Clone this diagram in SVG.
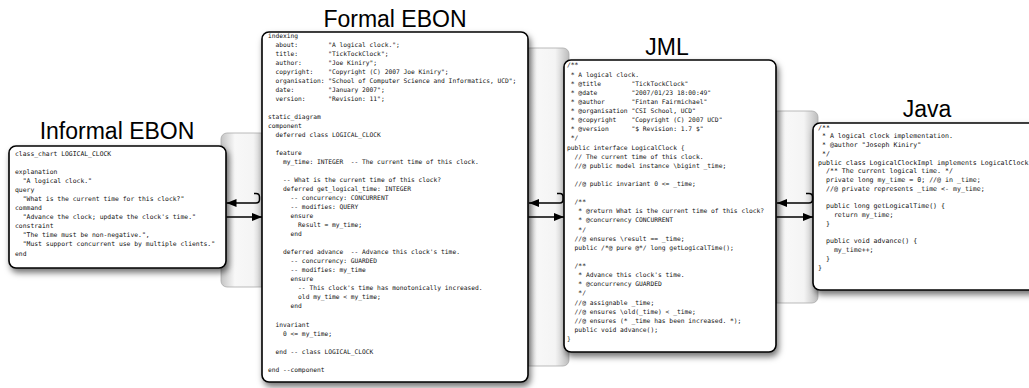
<svg xmlns="http://www.w3.org/2000/svg" width="1029" height="388" viewBox="0 0 1029 388">
<style>
.box{fill:#fff;stroke:#000;stroke-width:1.6;filter:url(#sh)}
.band{fill:url(#bandg);stroke:#aaaaaa;stroke-width:0.8}
.title{font-family:"Liberation Sans",Arial,sans-serif;font-size:23px;text-anchor:middle;fill:#000}
.code{font-family:"DejaVu Sans Mono","Liberation Mono",monospace;fill:#111}
.c1{font-size:6.4px}.c2{font-size:6.25px}.c3{font-size:6.3px}.c4{font-size:6.6px}
.conn{fill:none;stroke:#000;stroke-width:1.5}
</style>
<defs>
<filter id="sh" x="-10%" y="-10%" width="125%" height="125%">
<feDropShadow dx="2" dy="4" stdDeviation="3" flood-color="#000" flood-opacity="0.55"/>
</filter>
<linearGradient id="bandg" x1="0" y1="0" x2="1" y2="0">
<stop offset="0" stop-color="#c4c4c4"/>
<stop offset="0.3" stop-color="#f8f8f8"/>
<stop offset="0.7" stop-color="#f4f4f4"/>
<stop offset="1" stop-color="#bdbdbd"/>
</linearGradient>
<marker id="ah" markerUnits="userSpaceOnUse" markerWidth="12" markerHeight="10" refX="10" refY="5" orient="auto">
<path d="M0,1 L10,5 L0,9 Z" fill="#000"/>
</marker>
</defs>
<g id="bands">
<rect class="band" x="221" y="133" width="46" height="154" rx="6"/>
<rect class="band" x="523" y="48" width="46" height="318" rx="6"/>
<rect class="band" x="771" y="111" width="47" height="192" rx="6"/>
</g>
<g id="informal-ebon">
<text class="title" x="117" y="139">Informal EBON</text>
<rect class="box" x="9" y="146" width="217" height="122" rx="7"/>
<text class="code c1" xml:space="preserve"><tspan x="15" y="155.5">class_chart LOGICAL_CLOCK</tspan><tspan x="15" y="173.7">explanation</tspan><tspan x="15" y="182.8">  "A logical clock."</tspan><tspan x="15" y="191.9">query</tspan><tspan x="15" y="200.9">  "What is the current time for this clock?"</tspan><tspan x="15" y="210">command</tspan><tspan x="15" y="219.1">  "Advance the clock; update the clock's time."</tspan><tspan x="15" y="228.2">constraint</tspan><tspan x="15" y="237.3">  "The time must be non-negative.",</tspan><tspan x="15" y="246.4">  "Must support concurrent use by multiple clients."</tspan><tspan x="15" y="255.5">end</tspan></text>
</g>
<g id="formal-ebon">
<text class="title" x="395" y="27">Formal EBON</text>
<rect class="box" x="262" y="32" width="266" height="350" rx="7"/>
<text class="code c2" xml:space="preserve"><tspan x="268" y="37.5">indexing</tspan><tspan x="268" y="46.5">  about:        "A logical clock.";</tspan><tspan x="268" y="55.6">  title:        "TickTockClock";</tspan><tspan x="268" y="64.6">  author:       "Joe Kiniry";</tspan><tspan x="268" y="73.6">  copyright:    "Copyright (C) 2007 Joe Kiniry";</tspan><tspan x="268" y="82.7">  organisation: "School of Computer Science and Informatics, UCD";</tspan><tspan x="268" y="91.7">  date:         "January 2007";</tspan><tspan x="268" y="100.7">  version:      "Revision: 11";</tspan><tspan x="268" y="118.8">static_diagram</tspan><tspan x="268" y="127.8">component</tspan><tspan x="268" y="136.8">  deferred class LOGICAL_CLOCK</tspan><tspan x="268" y="154.9">  feature</tspan><tspan x="268" y="163.9">    my_time: INTEGER  -- The current time of this clock.</tspan><tspan x="268" y="182">    -- What is the current time of this clock?</tspan><tspan x="268" y="191">    deferred get_logical_time: INTEGER</tspan><tspan x="268" y="200">      -- concurrency: CONCURRENT</tspan><tspan x="268" y="209.1">      -- modifies: QUERY</tspan><tspan x="268" y="218.1">      ensure</tspan><tspan x="268" y="227.1">        Result = my_time;</tspan><tspan x="268" y="236.2">      end</tspan><tspan x="268" y="254.2">    deferred advance  -- Advance this clock's time.</tspan><tspan x="268" y="263.3">      -- concurrency: GUARDED</tspan><tspan x="268" y="272.3">      -- modifies: my_time</tspan><tspan x="268" y="281.3">      ensure</tspan><tspan x="268" y="290.3">        -- This clock's time has monotonically increased.</tspan><tspan x="268" y="299.4">        old my_time &lt; my_time;</tspan><tspan x="268" y="308.4">      end</tspan><tspan x="268" y="326.5">  invariant</tspan><tspan x="268" y="335.5">    0 &lt;= my_time;</tspan><tspan x="268" y="353.6">  end -- class LOGICAL_CLOCK</tspan><tspan x="268" y="371.6">end --component</tspan></text>
</g>
<g id="jml">
<text class="title" x="667" y="55">JML</text>
<rect class="box" x="564" y="60" width="212" height="292" rx="7"/>
<text class="code c3" xml:space="preserve"><tspan x="567" y="67.4">/**</tspan><tspan x="567" y="76.5"> * A logical clock.</tspan><tspan x="567" y="85.6"> * @title        "TickTockClock"</tspan><tspan x="567" y="94.8"> * @date         "2007/01/23 18:00:49"</tspan><tspan x="567" y="103.9"> * @author       "Fintan Fairmichael"</tspan><tspan x="567" y="113"> * @organisation "CSI School, UCD"</tspan><tspan x="567" y="122.1"> * @copyright    "Copyright (C) 2007 UCD"</tspan><tspan x="567" y="131.2"> * @version      "$ Revision: 1.7 $"</tspan><tspan x="567" y="140.4"> */</tspan><tspan x="567" y="149.5">public interface LogicalClock {</tspan><tspan x="567" y="158.6">  // The current time of this clock.</tspan><tspan x="567" y="167.7">  //@ public model instance \bigint _time;</tspan><tspan x="567" y="186">  //@ public invariant 0 &lt;= _time;</tspan><tspan x="567" y="204.2">  /**</tspan><tspan x="567" y="213.3">   * @return What is the current time of this clock?</tspan><tspan x="567" y="222.4">   * @concurrency CONCURRENT</tspan><tspan x="567" y="231.6">   */</tspan><tspan x="567" y="240.7">  //@ ensures \result == _time;</tspan><tspan x="567" y="249.8">  public /*@ pure @*/ long getLogicalTime();</tspan><tspan x="567" y="268">  /**</tspan><tspan x="567" y="277.2">   * Advance this clock's time.</tspan><tspan x="567" y="286.3">   * @concurrency GUARDED</tspan><tspan x="567" y="295.4">   */</tspan><tspan x="567" y="304.5">  //@ assignable _time;</tspan><tspan x="567" y="313.6">  //@ ensures \old(_time) &lt; _time;</tspan><tspan x="567" y="322.8">  //@ ensures (* _time has been increased. *);</tspan><tspan x="567" y="331.9">  public void advance();</tspan><tspan x="567" y="341">}</tspan></text>
</g>
<g id="java">
<text class="title" x="927" y="117">Java</text>
<rect class="box" x="813" y="123" width="232" height="167" rx="7"/>
<text class="code c4" xml:space="preserve"><tspan x="818" y="129.5">/**</tspan><tspan x="818" y="138.3"> * A logical clock implementation.</tspan><tspan x="818" y="147"> * @author "Joseph Kiniry"</tspan><tspan x="818" y="155.8"> */</tspan><tspan x="818" y="164.5">public class LogicalClockImpl implements LogicalClock {</tspan><tspan x="818" y="173.3">  /** The current logical time. */</tspan><tspan x="818" y="182">  private long my_time = 0; //@ in _time;</tspan><tspan x="818" y="190.8">  //@ private represents _time &lt;- my_time;</tspan><tspan x="818" y="208.3">  public long getLogicalTime() {</tspan><tspan x="818" y="217">    return my_time;</tspan><tspan x="818" y="225.8">  }</tspan><tspan x="818" y="243.3">  public void advance() {</tspan><tspan x="818" y="252">    my_time++;</tspan><tspan x="818" y="260.8">  }</tspan><tspan x="818" y="269.5">}</tspan></text>
</g>
<g id="connectors">
<path class="conn" d="M254,193.5 H256 Q259.5,193.5 259.5,197 V199.5 Q259.5,203 256,203 H226.5" marker-end="url(#ah)"/>
<path class="conn" d="M226.5,217 H262" marker-end="url(#ah)"/>
<path class="conn" d="M557,193.5 H560 Q563,193.5 563,197 V199.5 Q563,203 560,203 H529" marker-end="url(#ah)"/>
<path class="conn" d="M528.5,217 H564" marker-end="url(#ah)"/>
<path class="conn" d="M806,193.5 H809 Q812.5,193.5 812.5,197 V199.5 Q812.5,203 809,203 H777" marker-end="url(#ah)"/>
<path class="conn" d="M776.5,217 H813" marker-end="url(#ah)"/>
</g>
</svg>
